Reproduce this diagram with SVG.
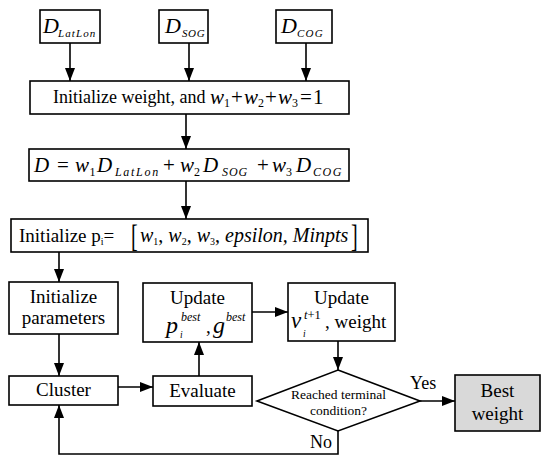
<svg xmlns="http://www.w3.org/2000/svg" width="550" height="462" viewBox="0 0 550 462" font-family="'Liberation Serif', 'Times New Roman', serif">
<defs>
<marker id="ah" viewBox="0 0 13 10" markerWidth="13" markerHeight="10" refX="13" refY="5" orient="auto" markerUnits="userSpaceOnUse">
<path d="M0,0 L13,5 L0,10 z" fill="#000"/>
</marker>
<style>
.box{fill:#fff;stroke:#000;stroke-width:1.6}
.t{font-family:'Liberation Serif','Times New Roman',serif;fill:#000}
.i{font-style:italic}
.c{stroke:#000;stroke-width:1.6;fill:none;marker-end:url(#ah)}
</style>
</defs>
<rect width="550" height="462" fill="#fff"/>

<g id="connectors">
<line class="c" x1="70" y1="43" x2="70" y2="81"/>
<line class="c" x1="189" y1="43" x2="189" y2="81"/>
<line class="c" x1="306" y1="43" x2="306" y2="81"/>
<line class="c" x1="186" y1="114" x2="186" y2="149"/>
<line class="c" x1="186" y1="181" x2="186" y2="219"/>
<line class="c" x1="59" y1="252" x2="59" y2="282"/>
<line class="c" x1="59" y1="334" x2="59" y2="376"/>
<line class="c" x1="118" y1="387" x2="153" y2="387"/>
<line class="c" x1="199" y1="376" x2="199" y2="342"/>
<line class="c" x1="252" y1="312" x2="288" y2="312"/>
<line class="c" x1="338" y1="341" x2="338" y2="370"/>
<line class="c" x1="420" y1="401" x2="455" y2="401"/>
<polyline class="c" points="338,431 338,454 59,454 59,405"/>
<text class="t" x="410" y="389" font-size="18">Yes</text>
<text class="t" x="310" y="448" font-size="18">No</text>
</g>

<g id="d-latlon">
<rect class="box" x="40" y="10" width="60" height="33"/>
<text class="t i" x="43" y="33" font-size="22">D</text>
<text class="t i" x="58" y="37" font-size="11" letter-spacing="1.1">LatLon</text>
</g>
<g id="d-sog">
<rect class="box" x="159" y="10" width="49" height="33"/>
<text class="t i" x="165" y="33" font-size="22">D</text>
<text class="t i" x="182" y="37" font-size="11" letter-spacing="0.6">SOG</text>
</g>
<g id="d-cog">
<rect class="box" x="276" y="10" width="56" height="33"/>
<text class="t i" x="281" y="33" font-size="22">D</text>
<text class="t i" x="297" y="37" font-size="11" letter-spacing="1.2">COG</text>
</g>

<g id="init-weight">
<rect class="box" x="30" y="81" width="319" height="33"/>
<text class="t" x="53" y="103" font-size="18">Initialize weight, and</text>
<g class="t" font-size="21">
<text class="i" x="210" y="104">w</text>
<text x="224" y="107" font-size="12">1</text>
<text x="231" y="104">+</text>
<text class="i" x="244" y="104">w</text>
<text x="258" y="107" font-size="12">2</text>
<text x="265" y="104">+</text>
<text class="i" x="278" y="104">w</text>
<text x="292" y="107" font-size="12">3</text>
<text x="300" y="104">=</text>
<text x="313" y="104">1</text>
</g>
</g>

<g id="distance">
<rect class="box" x="29" y="149" width="320" height="32"/>
<g class="t" font-size="21">
<text class="i" x="34" y="172">D</text>
<text x="57" y="172">=</text>
<text class="i" x="75" y="172">w</text>
<text x="89.5" y="176" font-size="12">1</text>
<text class="i" x="97" y="172">D</text>
<text class="i" x="115" y="176" font-size="12" letter-spacing="1.7">LatLon</text>
<text x="163" y="172">+</text>
<text class="i" x="180" y="172">w</text>
<text x="194" y="176" font-size="12">2</text>
<text class="i" x="203" y="172">D</text>
<text class="i" x="222" y="176" font-size="12" letter-spacing="0.9">SOG</text>
<text x="257" y="172">+</text>
<text class="i" x="272" y="172">w</text>
<text x="286" y="176" font-size="12">3</text>
<text class="i" x="296" y="172">D</text>
<text class="i" x="313" y="176" font-size="12" letter-spacing="1.5">COG</text>
</g>
</g>

<g id="init-p">
<rect class="box" x="11" y="219" width="357" height="33"/>
<text class="t" x="19" y="242" font-size="19">Initialize p<tspan font-size="10" dy="3">i</tspan><tspan dy="-3">=</tspan></text>
<text class="t" x="131" y="247" font-size="31" transform="translate(131 247) scale(0.65 1) translate(-131 -247)">[</text>
<text class="t" y="242" font-size="20"><tspan class="i" x="140">w</tspan><tspan font-size="10" dy="3">1</tspan><tspan dy="-3">, </tspan><tspan class="i">w</tspan><tspan font-size="10" dy="3">2</tspan><tspan dy="-3">, </tspan><tspan class="i">w</tspan><tspan font-size="10" dy="3">3</tspan><tspan dy="-3">, </tspan><tspan class="i">epsilon, Minpts</tspan></text>
<text class="t" x="351" y="247" font-size="31" transform="translate(351 247) scale(0.65 1) translate(-351 -247)">]</text>
</g>

<g id="init-params">
<rect class="box" x="9" y="282" width="109" height="52"/>
<text class="t" x="63.5" y="303" font-size="19" text-anchor="middle">Initialize</text>
<text class="t" x="63.5" y="324" font-size="19" text-anchor="middle">parameters</text>
</g>

<g id="update-p">
<rect class="box" x="143" y="283" width="109" height="59"/>
<text class="t" x="197.5" y="304" font-size="19" text-anchor="middle">Update</text>
<text class="t i" x="166" y="333" font-size="24">p</text>
<text class="t i" x="180" y="338" font-size="9.5">i</text>
<text class="t i" x="181" y="321" font-size="12">best</text>
<text class="t" x="206" y="333" font-size="19">,</text>
<text class="t i" x="213" y="333" font-size="24">g</text>
<text class="t i" x="226" y="321" font-size="12">best</text>
</g>

<g id="update-v">
<rect class="box" x="288" y="283" width="107" height="58"/>
<text class="t" x="341.5" y="304" font-size="19" text-anchor="middle">Update</text>
<text class="t i" x="291" y="328" font-size="23">v</text>
<text class="t i" x="303" y="337" font-size="9.5">i</text>
<text class="t" x="304" y="319" font-size="12.5"><tspan class="i">t</tspan>+1</text>
<text class="t" x="325" y="328" font-size="19">, weight</text>
</g>

<g id="cluster">
<rect class="box" x="9" y="376" width="109" height="29"/>
<text class="t" x="63.5" y="396" font-size="19" text-anchor="middle">Cluster</text>
</g>

<g id="evaluate">
<rect class="box" x="153" y="376" width="99" height="30"/>
<text class="t" x="202.5" y="397" font-size="19" text-anchor="middle">Evaluate</text>
</g>

<g id="decision">
<polygon class="box" points="338,370 420,401 338,431 257,401"/>
<text class="t" x="338.5" y="399" font-size="13.5" text-anchor="middle">Reached terminal</text>
<text class="t" x="338.5" y="415" font-size="13.5" text-anchor="middle">condition?</text>
</g>

<g id="best-weight">
<rect x="455" y="375" width="85" height="56" fill="#d9d9d9" stroke="#000" stroke-width="1.6"/>
<text class="t" x="497.5" y="397" font-size="19" text-anchor="middle">Best</text>
<text class="t" x="497.5" y="420" font-size="19" text-anchor="middle">weight</text>
</g>
</svg>
